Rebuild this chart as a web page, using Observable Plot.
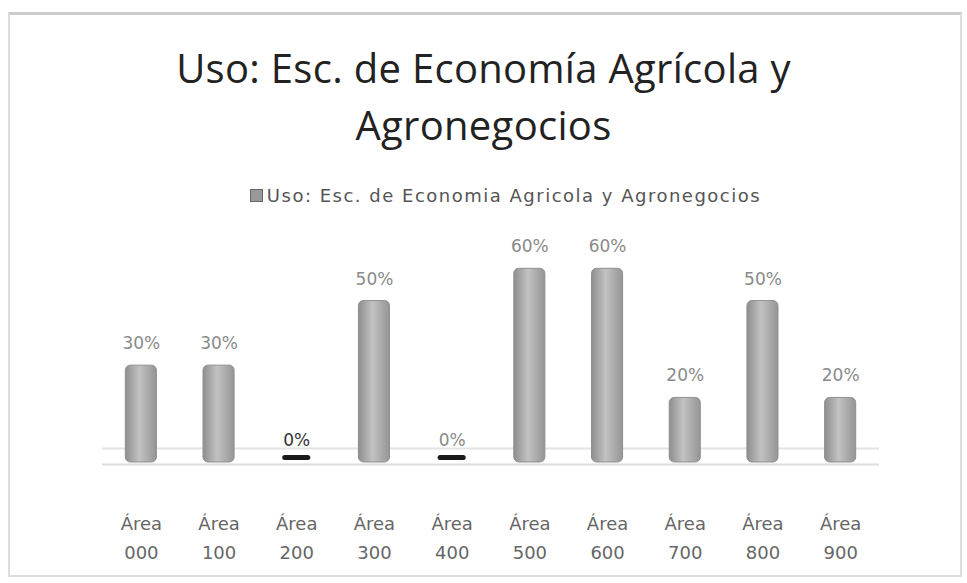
<!DOCTYPE html>
<html><head><meta charset="utf-8">
<script src="https://cdn.jsdelivr.net/npm/d3@7"></script>
<script src="https://cdn.jsdelivr.net/npm/@observablehq/plot@0.6"></script>
<style>
body{margin:0;background:#fff;}
#wrap{position:relative;width:967px;height:583px;overflow:hidden;font-family:"Open Sans",sans-serif;}
#frame{position:absolute;left:8px;top:12px;width:950px;height:560px;border:2px solid #ddd;border-top:3px solid #ccc;}
#title{position:absolute;left:0;width:967px;top:39px;text-align:center;font-size:40px;line-height:57px;color:#222;letter-spacing:0.3px;}
#legend{position:absolute;left:0;width:923px;padding-left:44px;top:185px;text-align:center;font-family:"DejaVu Sans",sans-serif;font-size:18px;letter-spacing:1.5px;color:#555;}
#legend .sw{display:inline-block;width:11px;height:11px;background:#999;border:1px solid #666;margin-right:4px;vertical-align:0px;}
#chart{position:absolute;left:0;top:0;}
</style></head>
<body>
<div id="wrap">
<div id="frame"></div>
<div id="title">Uso: Esc. de Economía Agrícola y<br>Agronegocios</div>
<div id="legend"><span class="sw"></span>Uso: Esc. de Economia Agricola y Agronegocios</div>
<div id="chart"></div>
</div>
<script>
const categories = ["Área 000","Área 100","Área 200","Área 300","Área 400","Área 500","Área 600","Área 700","Área 800","Área 900"];
const values = [0.30,0.30,0.00,0.50,0.00,0.60,0.60,0.20,0.50,0.20];
const valueLabels = ["30%","30%","0%","50%","0%","60%","60%","20%","50%","20%"];

const data = categories.map((c,i)=>({cat:c, v:values[i], label:valueLabels[i]}));
const zeros = data.filter(d=>d.v===0);

const plot = Plot.plot({
  width:967, height:583,
  marginLeft:102, marginRight:88, marginTop:236, marginBottom:121,
  style:{background:"transparent", overflow:"visible", fontFamily:"'DejaVu Sans',sans-serif"},
  x:{domain:categories, paddingInner:0.6, paddingOuter:0.3, round:false, label:null},
  y:{domain:[0,0.7], label:null, axis:null},
  marks:[
    Plot.ruleY([0],{stroke:"#e4e4e4", strokeWidth:2, dy:-14}),
    Plot.ruleY([0],{stroke:"#dcdcdc", strokeWidth:2, dy:2}),
    Plot.barY(data,{x:"cat", y:"v", fill:"url(#bargrad)", stroke:"#8f8f8f", strokeWidth:1, rx:5}),
    Plot.tickY(zeros,{x:"cat", y:"v", stroke:"#1a1a1a", strokeWidth:5, strokeLinecap:"round", insetLeft:4, insetRight:4, dy:-5}),
    Plot.text(data,{x:"cat", y:"v", text:"label", fontSize:17, letterSpacing:"1.5px",
      dy:-22, fill:d=>d.cat==="Área 200"?"#333":"#8a8a8a"}),
    Plot.axisX({tickSize:0, tickPadding:46, fontSize:18, lineHeight:1.65, fill:"#666", letterSpacing:"1.5px",
      tickFormat:d=>d.replace(" ","\n")})
  ]
});
const defs = document.createElementNS("http://www.w3.org/2000/svg","defs");
defs.innerHTML = `<linearGradient id="bargrad" x1="0" x2="1" y1="0" y2="0">
<stop offset="0" stop-color="#8e8e8e"/><stop offset="0.45" stop-color="#c2c2c2"/><stop offset="1" stop-color="#959595"/></linearGradient>`;
plot.insertBefore(defs, plot.firstChild);
document.getElementById("chart").appendChild(plot);
</script>
</body></html>
